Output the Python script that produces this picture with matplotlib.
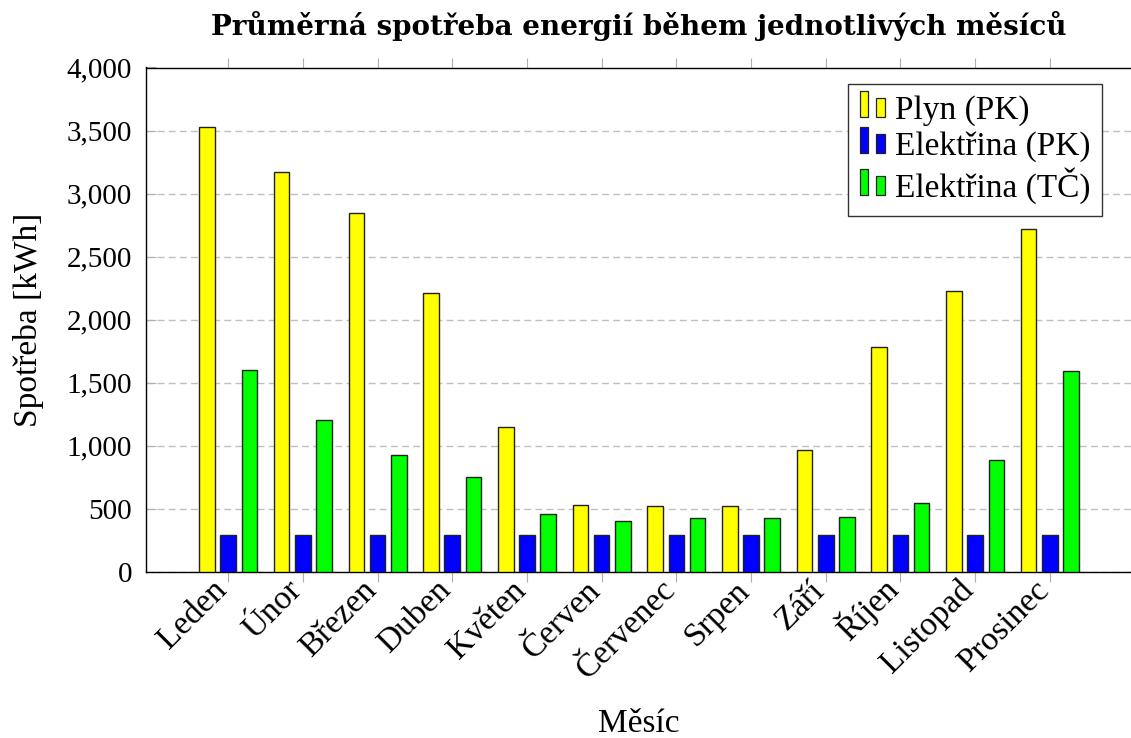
import matplotlib
matplotlib.use('Agg')
import matplotlib.pyplot as plt
from matplotlib.legend_handler import HandlerBase
from matplotlib.patches import Patch, Rectangle
from matplotlib.ticker import FuncFormatter
import numpy as np

months = ['Leden', 'Únor', 'Březen', 'Duben', 'Květen', 'Červen',
          'Červenec', 'Srpen', 'Září', 'Říjen', 'Listopad', 'Prosinec']
gas_pk = [3530, 3170, 2845, 2210, 1150, 530, 525, 525, 965, 1785, 2230, 2720]
elec_pk = [292, 292, 292, 292, 292, 292, 292, 292, 292, 292, 292, 292]
elec_tc = [1602, 1207, 925, 752, 461, 402, 429, 428, 437, 550, 890, 1596]

series_labels = ['Plyn (PK)', 'Elektřina (PK)', 'Elektřina (TČ)']
series_colors = ['#ffff00', '#0000ff', '#00ff00']

plt.rcParams['font.family'] = ['Liberation Serif', 'DejaVu Serif']
FS_TICK = 21   # numbers on the y axis
FS_TEXT = 24   # words (labels, months, legend)


# legend icon like pgfplots ybar: two small bars
class TwoBarHandler(HandlerBase):
    def create_artists(self, legend, orig_handle, xdescent, ydescent,
                       width, height, fontsize, trans):
        w = width * 0.34
        fc = orig_handle.get_facecolor()
        r1 = Rectangle((-xdescent, -ydescent), w, height * 1.3,
                       facecolor=fc, edgecolor='#222222', lw=0.9, transform=trans)
        r2 = Rectangle((-xdescent + width - w, -ydescent), w, height * 0.95,
                       facecolor=fc, edgecolor='#222222', lw=0.9, transform=trans)
        return [r1, r2]


W, H = 1131, 738
fig = plt.figure(figsize=(W / 100, H / 100), dpi=100)
ax = fig.add_axes([146 / W, (H - 572) / H, 986 / W, 504.5 / H])

x = np.arange(len(months))
offs = [-0.284, 0, 0.284]
for vals, off, col in zip([gas_pk, elec_pk, elec_tc], offs, series_colors):
    ax.bar(x + off, vals, width=0.21, color=col, edgecolor='#222222',
           linewidth=1.0, zorder=3)

ax.set_xlim(-1.1, 12.1)
ax.set_ylim(0, 4000)
ax.set_yticks(np.arange(0, 4001, 500))
ax.yaxis.set_major_formatter(FuncFormatter(lambda v, p: f'{int(v):,}'))
ax.set_xticks(x)
ax.set_xticklabels(months, rotation=45, ha='right', va='baseline',
                   rotation_mode='anchor', fontsize=FS_TEXT)

ax.yaxis.grid(True, linestyle=(0, (5, 3)), color='#c0c0c0', lw=1.0, zorder=0)
ax.set_axisbelow(True)

ax.tick_params(axis='x', direction='out', top=True, bottom=True, length=7,
               width=0.8, color='#b0b0b0', pad=7)
ax.tick_params(axis='y', direction='in', left=True, right=False, length=7,
               width=0.8, color='#b0b0b0', labelsize=FS_TICK, pad=10)
for s in ax.spines.values():
    s.set_linewidth(1.0)
    s.set_color('black')

fig.text(639 / W, 1 - 35 / H, 'Průměrná spotřeba energií během jednotlivých měsíců',
         ha='center', va='baseline', fontsize=20, fontweight='bold',
         family=['DejaVu Serif'])
fig.text(29 / W, 1 - 320 / H, 'Spotřeba [kWh]', rotation=90,
         ha='center', va='center', fontsize=FS_TEXT)
fig.text(639 / W, 1 - 732 / H, 'Měsíc', ha='center', va='baseline',
         fontsize=FS_TEXT)

handles = [Patch(facecolor=c, label=l) for c, l in zip(series_colors, series_labels)]
leg = ax.legend(handles=handles, loc='upper right',
                bbox_to_anchor=(1102 / W, 1 - 84 / H), bbox_transform=fig.transFigure,
                borderaxespad=0, fontsize=FS_TEXT, fancybox=False, framealpha=1,
                edgecolor='#333333', handler_map={Patch: TwoBarHandler()},
                handlelength=0.75, handleheight=0.55, handletextpad=0.3,
                borderpad=0.35, labelspacing=0.15)
leg.get_frame().set_linewidth(1.0)
leg.set_zorder(5)

fig.savefig('out.png', dpi=100)
